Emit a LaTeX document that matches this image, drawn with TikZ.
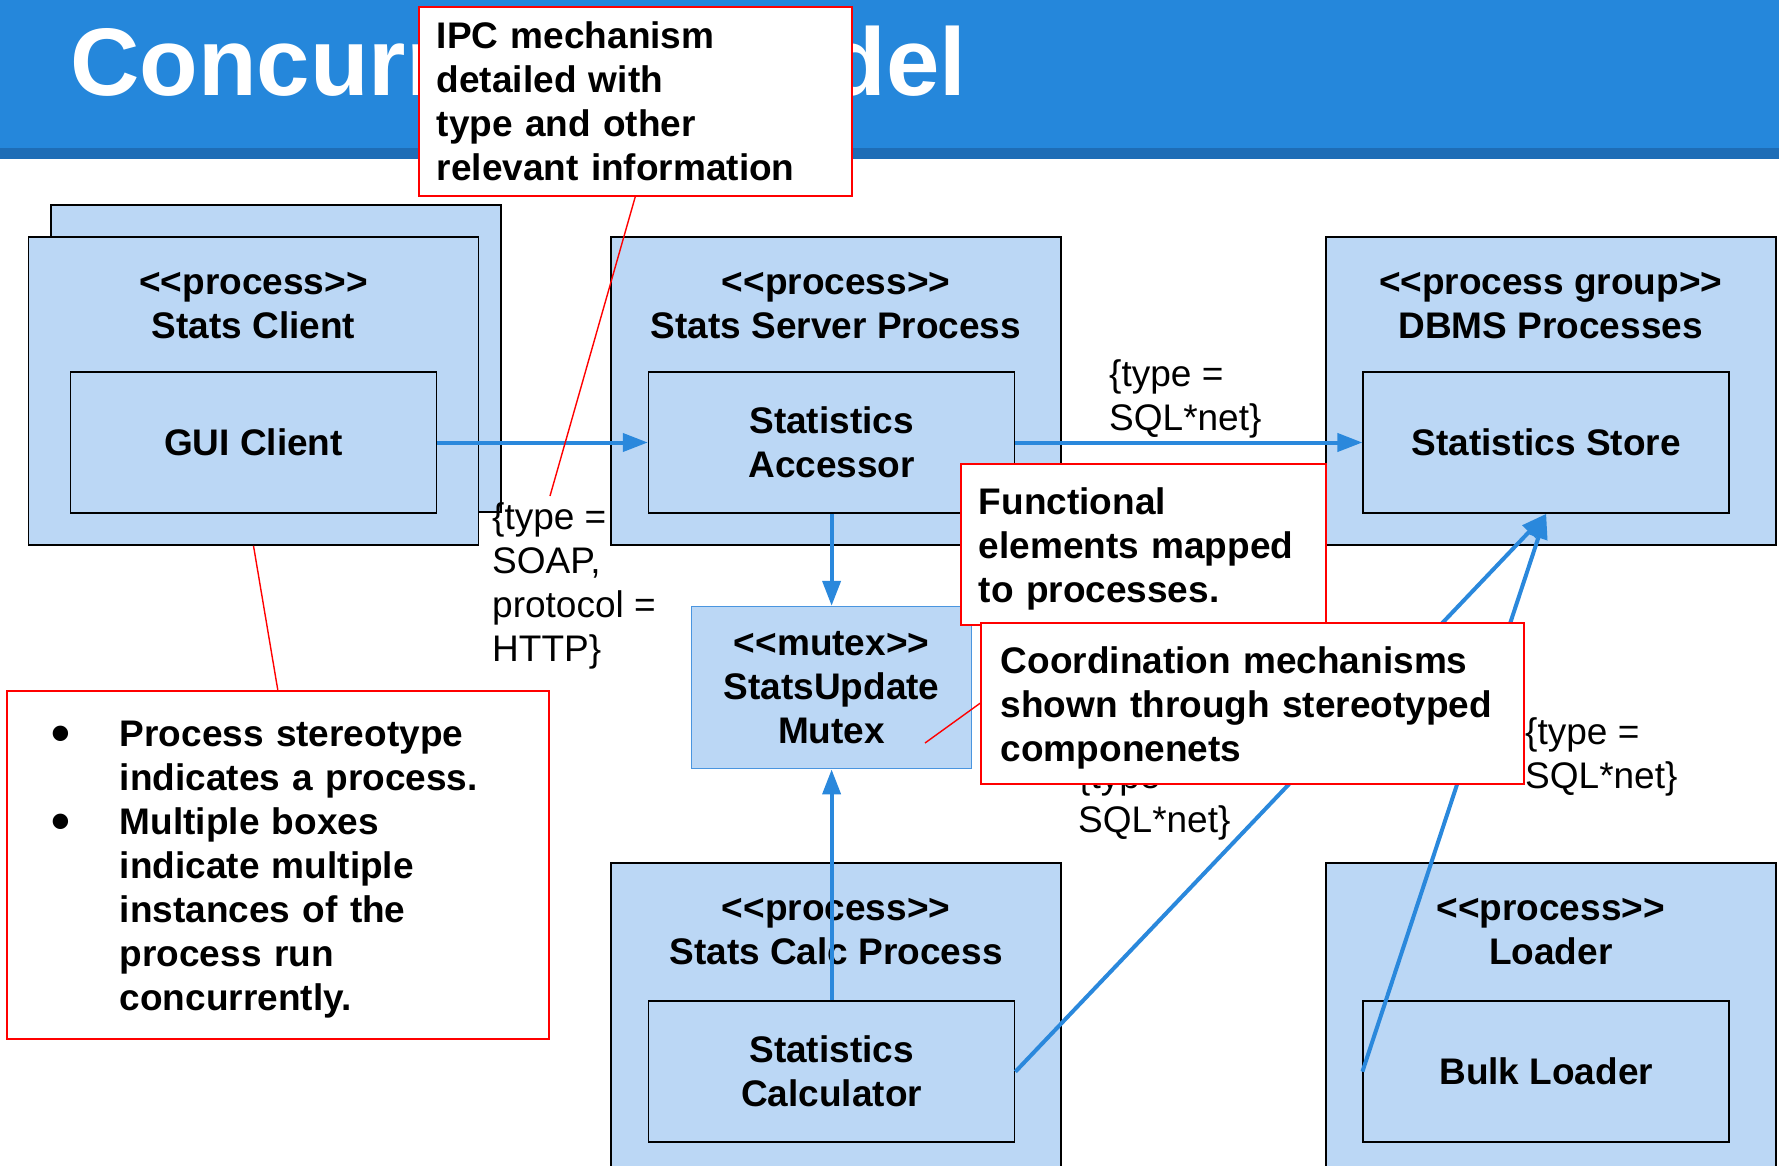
\documentclass[tikz,border=0pt]{standalone}
\usepackage{fontspec}
\newfontfamily\arial{Liberation Sans}
\usetikzlibrary{positioning, arrows.meta}
\definecolor{barblue}{HTML}{2587DB}
\definecolor{stripblue}{HTML}{1E6DB6}
\definecolor{procfill}{HTML}{BBD7F5}
\definecolor{flowblue}{HTML}{2A88DC}
\definecolor{mutexline}{HTML}{4A95DF}
\newcommand{\bigdot}{\makebox[68pt][l]{\raisebox{-5pt}{\scalebox{1.45}{\textbullet}}}}
\newcommand{\lift}{\rule{0pt}{36pt}}

\begin{document}
\begin{tikzpicture}[x=1pt, y=-1pt,
                font=\arial,
                proc/.style={rectangle, draw=black, line width=1.6pt, fill=procfill, minimum width=450pt, minimum height=308pt, inner sep=0pt},
                ptitle/.style={align=center, inner sep=0pt, font=\arial\bfseries\fontsize{37}{44}\selectfont},
                elem/.style={rectangle, draw=black, line width=1.6pt, fill=procfill, minimum width=366pt, minimum height=141pt, align=center, font=\arial\bfseries\fontsize{37}{44}\selectfont},
                mutexbox/.style={rectangle, draw=mutexline, line width=1.6pt, fill=procfill, minimum width=280pt, minimum height=162pt, align=center, font=\arial\bfseries\fontsize{37}{44}\selectfont},
                note/.style={rectangle, draw=red, line width=1.6pt, fill=white, anchor=north west, align=left, inner xsep=18pt, font=\arial\bfseries\fontsize{37}{44}\selectfont},
                tag/.style={anchor=west, align=left, inner sep=0pt, font=\arial\fontsize{37}{44}\selectfont},
                flow/.style={-{Triangle[length=25pt, width=18pt]}, line width=4pt, flowblue},
                callout/.style={red, line width=1.4pt}
            ]
            \useasboundingbox (0,0) rectangle (1779,1166);
            \fill[barblue] (0,0) rectangle (1779,148);
            \fill[stripblue] (0,148) rectangle (1779,159);
            \node[anchor=base west, inner sep=0pt, text=white, font=\arial\bfseries\fontsize{96}{110}\selectfont] (title) at (70,96) {Concurrency Model};

            % processes and their elements
            \node[proc, minimum height=307pt] (clientbk) at (276,358.5) {};
            \node[proc] (client) at ([xshift=-22.5pt, yshift=-32.5pt]clientbk) {};
            \node[ptitle] (clientT) at ([yshift=-69pt]client.north) {<<process>>\\Stats Client};
            \node[elem, below=135pt of client.north] (gui) {GUI Client};

            \node[proc, right=131pt of client] (srv) {};
            \node[ptitle] (srvT) at ([yshift=-69pt]srv.north) {<<process>>\\Stats Server Process};
            \node[elem, below=135pt of srv.north, xshift=-4.5pt] (acc) {Statistics\\Accessor};

            \node[proc, right=265pt of srv, xshift=-2pt] (dbms) {};
            \node[ptitle] (dbmsT) at ([yshift=-69pt]dbms.north) {<<process group>>\\DBMS Processes};
            \node[elem, below=135pt of dbms.north, xshift=-4.5pt] (store) {Statistics Store};

            \node[mutexbox, below=92pt of acc] (mutex) {<<mutex>>\\StatsUpdate\\Mutex};

            \node[proc, below=93pt of mutex, xshift=4.5pt] (calcp) {};
            \node[ptitle] (calcpT) at ([yshift=-69pt]calcp.north) {<<process>>\\Stats Calc Process};
            \node[elem, below=138pt of calcp.north, xshift=-4.5pt] (calc) {Statistics\\Calculator};

            \node[proc, right=265pt of calcp, xshift=-2pt] (loader) {};
            \node[ptitle] (loaderT) at ([yshift=-69pt]loader.north) {<<process>>\\Loader};
            \node[elem, below=138pt of loader.north, xshift=-4.5pt] (bulk) {Bulk Loader};

            % connectors
            \draw[flow] (gui) -- (acc);
            \draw[flow] (acc) -- (store);
            \draw[flow] (acc) -- (mutex);
            \draw[flow] (calc) -- (mutex);
            \draw[flow] (calc.east) -- (store.south);
            \draw[flow] (bulk.west) -- (store.south);

            \node[tag] (soap) at (492,585.5) {\{type =\\SOAP,\\protocol =\\HTTP\}};
            \node[tag] (sqlA) at (1109,399) {\{type =\\SQL*net\}};
            \node[tag] (sqlB) at (1078,800.5) {\{type =\\SQL*net\}};
            \node[tag] (sqlC) at (1525,756.5) {\{type =\\SQL*net\}};

            % notes
            \node[note, text width=397pt, minimum height=189pt] (ipc) at (418,6) {IPC mechanism\\detailed with\\type and other\\relevant information};
            \node[note, text width=329pt, minimum height=161pt] (funcnote) at (960,463) {\lift Functional\\elements mapped\\to processes.};
            \node[note, inner xsep=20pt, text width=503pt, minimum height=161pt] (coordnote) at (980,622) {\lift Coordination mechanisms\\shown through stereotyped\\componenets};
            \node[note, inner xsep=45pt, text width=452pt, minimum height=348pt] (procnote) at (6,690) {\lift\bigdot Process stereotype\\\hspace*{68pt}indicates a process.\\\bigdot Multiple boxes\\\hspace*{68pt}indicate multiple\\\hspace*{68pt}instances of the\\\hspace*{68pt}process run\\\hspace*{68pt}concurrently.};

            \coordinate (ipcend) at (550,496);
            \coordinate (mutexpt) at (925,743);
            \draw[callout] (ipc.south) -- (ipcend);
            \draw[callout] (client.south) -- (procnote.north);
            \draw[callout] (coordnote.west) -- (mutexpt);
        \end{tikzpicture}
\end{document}
